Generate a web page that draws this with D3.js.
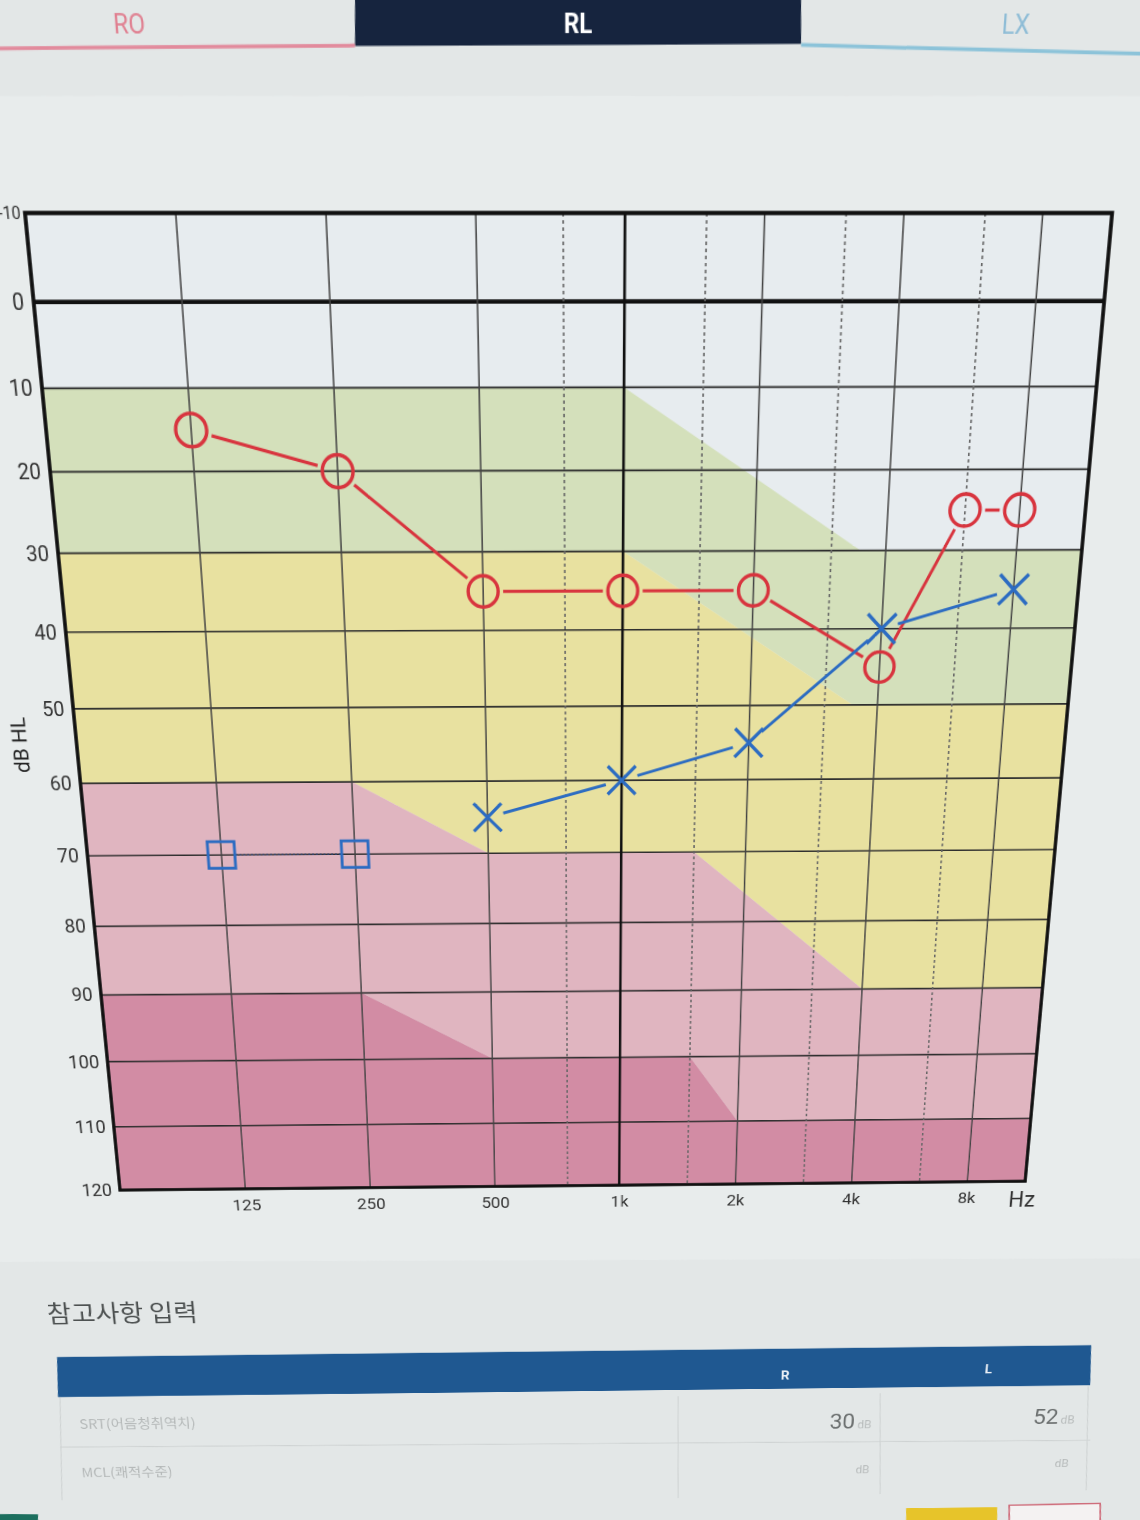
<!DOCTYPE html>
<html><head><meta charset="utf-8">
<script src="https://cdn.jsdelivr.net/npm/d3@7"></script>
<style>
html,body{margin:0;padding:0;width:1140px;height:1520px;overflow:hidden;background:#e2e6e6;}
#wrap{position:absolute;left:0;top:0;width:1500px;height:1750px;transform-origin:0 0;}
svg{display:block;}
</style></head><body>
<div id="wrap"><svg id="stage" width="1500" height="1750"></svg></div>
<script>
// ---------------- data ----------------
const FMIN = 62.5, FMAX = 11314;
const xTickFreqs = [125, 250, 500, 1000, 2000, 4000, 8000];
const xTickLabels = ["125", "250", "500", "1k", "2k", "4k", "8k"];
const midFreqs = [750, 1500, 3000, 6000];
const dbTicks = [-10, 0, 10, 20, 30, 40, 50, 60, 70, 80, 90, 100, 110, 120];

const rightAirFreq = [125, 250, 500, 1000, 2000, 4000, 6000, 8000];
const rightAirDb   = [15, 20, 35, 35, 35, 45, 25, 25];
const leftAirFreq  = [500, 1000, 2000, 4000, 8000];
const leftAirDb    = [65, 60, 55, 40, 35];
const leftBoneFreq = [125, 250];
const leftBoneDb   = [70, 70];

// degree-of-loss zone boundaries [freq, dB]
const zoneTop    = [[FMIN, -10], [FMAX, -10]];
const boundary1  = [[FMIN, 10], [1000, 10], [3500, 30], [FMAX, 30]];
const boundary2  = [[FMIN, 30], [1000, 30], [3500, 50], [FMAX, 50]];
const boundary3  = [[FMIN, 60], [250, 60], [500, 70], [1500, 70], [4000, 90], [FMAX, 90]];
const boundary4  = [[FMIN, 90], [250, 90], [500, 100], [1500, 100], [2000, 110], [FMAX, 110]];
const zoneBottom = [[FMIN, 120], [FMAX, 120]];
const zoneColors = ["#e7ecef", "#d4e0bb", "#e8e1a0", "#e0b5c0", "#d28ca4"];

const tabLabels = ["RO", "RL", "LX"];
const noteTitle = "참고사항 입력";
const tableCols = ["R", "L"];
const srtLabel = "SRT(어음청취역치)";
const mclLabel = "MCL(쾌적수준)";
const srtValues = ["30", "52"];

// ---------------- perspective (photo) mapping ----------------
const PX0 = 200, PX1 = 1220, PY0 = 213, PY1 = 1190;
const photoQuad = [[25, 213], [1112, 213], [1025, 1181], [120, 1190]];
const rectQuad = [[PX0, PY0], [PX1, PY0], [PX1, PY1], [PX0, PY1]];

function homography(src, dst) {
  const M = [];
  for (let i = 0; i < 4; i++) {
    const [x, y] = src[i], [u, w] = dst[i];
    M.push([x, y, 1, 0, 0, 0, -u * x, -u * y, u]);
    M.push([0, 0, 0, x, y, 1, -w * x, -w * y, w]);
  }
  for (let c = 0; c < 8; c++) {
    let p = c;
    for (let r = c + 1; r < 8; r++) if (Math.abs(M[r][c]) > Math.abs(M[p][c])) p = r;
    [M[c], M[p]] = [M[p], M[c]];
    for (let r = 0; r < 8; r++) {
      if (r === c) continue;
      const f = M[r][c] / M[c][c];
      for (let k = c; k < 9; k++) M[r][k] -= f * M[c][k];
    }
  }
  const h = M.map((row, i) => row[8] / row[i]);
  h.push(1);
  return h;
}
function invert3(h) {
  const [a, b, c, d, e, f, g, k, l] = h;
  const A = e * l - f * k, B = -(d * l - f * g), C = d * k - e * g;
  const det = a * A + b * B + c * C;
  return [A / det, -(b * l - c * k) / det, (b * f - c * e) / det,
          B / det, (a * l - c * g) / det, -(a * f - c * d) / det,
          C / det, -(a * k - b * g) / det, (a * e - b * d) / det];
}
const H = homography(rectQuad, photoQuad);
const Hi = invert3(H);
function P(x, y) {
  const w = Hi[6] * x + Hi[7] * y + Hi[8];
  return [(Hi[0] * x + Hi[1] * y + Hi[2]) / w, (Hi[3] * x + Hi[4] * y + Hi[5]) / w];
}
document.getElementById("wrap").style.transform =
  `matrix3d(${H[0]},${H[3]},0,${H[6]},${H[1]},${H[4]},0,${H[7]},0,0,1,0,${H[2]},${H[5]},0,${H[8]})`;

// ---------------- scales ----------------
const xm = P(625, 213)[0];
const x = d3.scaleLog().domain([FMIN, 1000, FMAX]).range([PX0, xm, PX1]);
const y = d3.scaleLinear().domain([-10, 120]).range([PY0, PY1]);

const svg = d3.select("#stage");
const FONT = "Roboto, 'DejaVu Sans', sans-serif";
const KFONT = "'Noto Sans CJK KR', 'Noto Sans', sans-serif";

// page pieces (positions measured in photo space)
const polyPath = pts => "M" + pts.map(p => P(p[0], p[1]).join(",")).join("L") + "Z";
const linePath = pts => "M" + pts.map(p => P(p[0], p[1]).join(",")).join("L");

svg.append("path").attr("d", polyPath([[-60, -60], [1200, -60], [1200, 1600], [-60, 1600]])).attr("fill", "#e3e7e7");
svg.append("path").attr("d", polyPath([[-60, 96], [1200, 96], [1200, 1258], [-60, 1262]])).attr("fill", "#e8ecec");

// tabs
svg.append("path").attr("d", polyPath([[355, -20], [801, -20], [801, 44], [355, 46]])).attr("fill", "#16243e");
svg.append("path").attr("d", linePath([[-10, 48.5], [355, 45.5]])).attr("stroke", "#e28a9c").attr("stroke-width", 3).attr("fill", "none");
svg.append("path").attr("d", linePath([[801, 45], [1150, 54]])).attr("stroke", "#8cc3d9").attr("stroke-width", 3).attr("fill", "none");
const tabPos = [[130, 34, "#e07f90"], [578, 33, "#ffffff"], [1015, 34, "#8dbcd6"]];
tabLabels.forEach((t, i) => {
  const p = P(tabPos[i][0], tabPos[i][1]);
  svg.append("text").attr("x", p[0]).attr("y", p[1]).attr("text-anchor", "middle")
    .attr("font-family", FONT).attr("font-size", 22).attr("font-weight", i === 1 ? 700 : 400)
    .attr("fill", tabPos[i][2]).text(t);
});

// ---------------- chart ----------------
const g = svg.append("g");
const allB = [zoneTop, boundary1, boundary2, boundary3, boundary4, zoneBottom];
const toPx = pts => pts.map(d => [x(d[0]), y(d[1])]);
for (let i = 0; i < 5; i++) {
  const pts = toPx(allB[i]).concat(toPx(allB[i + 1]).reverse());
  g.append("path").attr("d", "M" + pts.map(p => p.join(",")).join("L") + "Z").attr("fill", zoneColors[i]);
}

// gridlines
g.selectAll(".hg").data(dbTicks.filter(d => d > -10 && d < 120)).join("line")
  .attr("x1", PX0).attr("x2", PX1).attr("y1", d => y(d)).attr("y2", d => y(d))
  .attr("stroke", d => d === 0 ? "#111" : "#2e2e2e").attr("stroke-width", d => d === 0 ? 3.6 : 1.7);
g.selectAll(".mg").data(midFreqs).join("line")
  .attr("x1", d => x(d)).attr("x2", d => x(d)).attr("y1", PY0).attr("y2", PY1)
  .attr("stroke", "#666").attr("stroke-width", 1.6).attr("stroke-dasharray", "3,3");
g.selectAll(".vg").data(xTickFreqs).join("line")
  .attr("x1", d => x(d)).attr("x2", d => x(d)).attr("y1", PY0).attr("y2", PY1)
  .attr("stroke", d => d === 1000 ? "#111" : "#444").attr("stroke-width", d => d === 1000 ? 2.6 : 1.5);
g.append("rect").attr("x", PX0).attr("y", PY0).attr("width", PX1 - PX0).attr("height", PY1 - PY0)
  .attr("fill", "none").attr("stroke", "#111").attr("stroke-width", 3.6);

// axes
const ya = g.append("g").attr("transform", `translate(${PX0},0)`)
  .call(d3.axisLeft(y).tickValues(dbTicks).tickSize(0).tickPadding(9).tickFormat(d => d));
ya.select(".domain").remove();
ya.selectAll("text").attr("font-family", FONT).attr("font-size", 20).attr("fill", "#333");
// keep the top label fully inside the picture
ya.selectAll(".tick").filter(d => d === -10).select("text").attr("font-size", 15).attr("x", -4);
const xa = g.append("g").attr("transform", `translate(0,${PY1})`)
  .call(d3.axisBottom(x).tickValues(xTickFreqs).tickSize(0).tickPadding(13).tickFormat((d, i) => xTickLabels[i]));
xa.select(".domain").remove();
xa.selectAll("text").attr("font-family", FONT).attr("font-size", 19).attr("fill", "#333");
g.append("text").attr("x", PX1 - 2).attr("y", PY1 + 31).attr("text-anchor", "middle")
  .attr("font-family", FONT).attr("font-size", 25).attr("fill", "#333").text("Hz");
const yt = P(20, 745);
g.append("text").attr("transform", `translate(${yt[0]},${yt[1]}) rotate(-90)`).attr("text-anchor", "middle")
  .attr("dominant-baseline", "central").attr("font-family", FONT).attr("font-size", 21).attr("fill", "#222").text("dB HL");

// data lines with gaps at markers
function gappedSegments(fr, db, gap) {
  const pts = fr.map((f, i) => [x(f), y(db[i])]);
  const segs = [];
  for (let i = 0; i < pts.length - 1; i++) {
    const [x1, y1] = pts[i], [x2, y2] = pts[i + 1];
    const L = Math.hypot(x2 - x1, y2 - y1), ux = (x2 - x1) / L, uy = (y2 - y1) / L;
    segs.push([x1 + ux * gap, y1 + uy * gap, x2 - ux * gap, y2 - uy * gap]);
  }
  return segs;
}
const RED = "#d8343e", BLUE = "#2c6cc2";
g.selectAll(".rl").data(gappedSegments(rightAirFreq, rightAirDb, 20)).join("line")
  .attr("x1", d => d[0]).attr("y1", d => d[1]).attr("x2", d => d[2]).attr("y2", d => d[3])
  .attr("stroke", RED).attr("stroke-width", 3);
g.selectAll(".bl").data(gappedSegments(leftAirFreq, leftAirDb, 17)).join("line")
  .attr("x1", d => d[0]).attr("y1", d => d[1]).attr("x2", d => d[2]).attr("y2", d => d[3])
  .attr("stroke", BLUE).attr("stroke-width", 3);
g.selectAll(".bb").data(gappedSegments(leftBoneFreq, leftBoneDb, 15)).join("line")
  .attr("x1", d => d[0]).attr("y1", d => d[1]).attr("x2", d => d[2]).attr("y2", d => d[3])
  .attr("stroke", "#2d3f6a").attr("stroke-width", 1.6).attr("stroke-dasharray", "2,2");

// markers
g.selectAll(".ro").data(rightAirFreq).join("circle")
  .attr("cx", d => x(d)).attr("cy", (d, i) => y(rightAirDb[i])).attr("r", 15)
  .attr("fill", "none").attr("stroke", RED).attr("stroke-width", 3.4);
const xs = 14.5;
g.selectAll(".lx").data(leftAirFreq).join("path")
  .attr("d", (d, i) => { const cx = x(d), cy = y(leftAirDb[i]);
    return `M${cx - xs},${cy - xs}L${cx + xs},${cy + xs}M${cx - xs},${cy + xs}L${cx + xs},${cy - xs}`; })
  .attr("stroke", BLUE).attr("stroke-width", 3.4).attr("fill", "none");
g.selectAll(".lb").data(leftBoneFreq).join("rect")
  .attr("x", d => x(d) - 14).attr("y", (d, i) => y(leftBoneDb[i]) - 14).attr("width", 28).attr("height", 28)
  .attr("fill", "none").attr("stroke", BLUE).attr("stroke-width", 3);

// ---------------- notes / table ----------------
const tt = P(48, 1322);
svg.append("text").attr("x", tt[0]).attr("y", tt[1]).attr("font-family", KFONT).attr("font-size", 30)
  .attr("fill", "#4e5252").text(noteTitle);
svg.append("path").attr("d", polyPath([[57, 1357], [1091, 1345], [1090, 1385], [58, 1397]])).attr("fill", "#1f5891");
[[785, 1379], [988, 1373]].forEach((p, i) => {
  const q = P(p[0], p[1]);
  svg.append("text").attr("x", q[0]).attr("y", q[1]).attr("text-anchor", "middle").attr("font-family", FONT)
    .attr("font-size", 16).attr("font-weight", 700).attr("fill", "#e8eef5").text(tableCols[i]);
});
[[[60, 1397], [62, 1500]], [[678, 1396], [678, 1498]], [[880, 1393], [880, 1494]], [[60, 1447], [1090, 1440]], [[1088, 1386], [1086, 1490]]]
  .forEach(l => svg.append("path").attr("d", linePath(l)).attr("stroke", "#cfd3d3").attr("stroke-width", 1.2).attr("fill", "none"));
const s1 = P(80, 1429);
svg.append("text").attr("x", s1[0]).attr("y", s1[1]).attr("font-family", KFONT).attr("font-size", 17).attr("fill", "#b5b9b9").text(srtLabel);
const s2 = P(82, 1477);
svg.append("text").attr("x", s2[0]).attr("y", s2[1]).attr("font-family", KFONT).attr("font-size", 17).attr("fill", "#b5b9b9").text(mclLabel);
[[871, 1428], [1074, 1423]].forEach((p, i) => {
  const q = P(p[0], p[1]);
  const t = svg.append("text").attr("x", q[0]).attr("y", q[1]).attr("text-anchor", "end").attr("font-family", FONT);
  t.append("tspan").attr("font-size", 27).attr("fill", "#6c7070").text(srtValues[i]);
  t.append("tspan").attr("font-size", 14).attr("fill", "#b8bcbc").attr("dx", 3).text("dB");
});
[[869, 1473], [1068, 1467]].forEach(p => {
  const q = P(p[0], p[1]);
  svg.append("text").attr("x", q[0]).attr("y", q[1]).attr("text-anchor", "end").attr("font-family", FONT)
    .attr("font-size", 14).attr("fill", "#b8bcbc").text("dB");
});
// bottom buttons
svg.append("path").attr("d", polyPath([[906, 1508], [997, 1507], [997, 1540], [906, 1540]])).attr("fill", "#e7c42a");
svg.append("path").attr("d", polyPath([[1009, 1505], [1100, 1503], [1100, 1540], [1009, 1540]])).attr("fill", "#f4f2f2").attr("stroke", "#cf6e7c").attr("stroke-width", 2);
svg.append("path").attr("d", polyPath([[-20, 1514], [38, 1514], [38, 1540], [-20, 1540]])).attr("fill", "#1c6f5e");
</script>
</body></html>
